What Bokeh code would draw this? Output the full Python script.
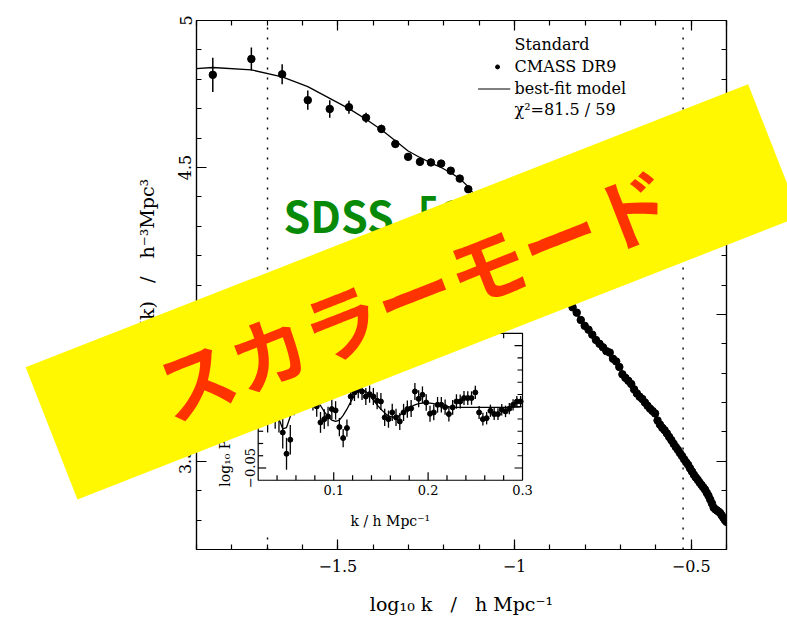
import math
from bokeh.plotting import figure
from bokeh.layouts import column
from bokeh.models import Range1d, LinearAxis, SingleIntervalTicker
from bokeh.core.properties import value
from bokeh.embed import file_html
from bokeh.resources import INLINE

# ---------------- data ----------------
k_data = [0.014, 0.018, 0.022, 0.026, 0.030, 0.034, 0.038, 0.042, 0.046, 0.050,
          0.054, 0.058, 0.062, 0.066, 0.070, 0.074, 0.078, 0.082, 0.086, 0.090,
          0.094, 0.098, 0.102, 0.106, 0.110, 0.114, 0.118, 0.122, 0.126, 0.130,
          0.134, 0.138, 0.142, 0.146, 0.150, 0.154, 0.158, 0.162, 0.166, 0.170,
          0.174, 0.178, 0.182, 0.186, 0.190, 0.194, 0.198, 0.202, 0.206, 0.210,
          0.214, 0.218, 0.222, 0.226, 0.230, 0.234, 0.238, 0.242, 0.246, 0.250,
          0.254, 0.258, 0.262, 0.266, 0.270, 0.274, 0.278, 0.282, 0.286, 0.290,
          0.294, 0.298, 0.302, 0.306, 0.310, 0.314, 0.318, 0.322, 0.326, 0.330,
          0.334, 0.338, 0.342, 0.346, 0.350, 0.354, 0.358, 0.362, 0.366, 0.370,
          0.374, 0.378, 0.382, 0.386, 0.390, 0.394, 0.398]
logP_data = [4.815, 4.869, 4.817, 4.729, 4.699, 4.705, 4.669, 4.631, 4.580, 4.536,
             4.519, 4.517, 4.513, 4.489, 4.462, 4.426, 4.394, 4.357, 4.316, 4.292,
             4.268, 4.249, 4.225, 4.188, 4.157, 4.145, 4.150, 4.134, 4.117, 4.097,
             4.074, 4.059, 4.040, 4.024, 4.006, 3.981, 3.961, 3.948, 3.931, 3.913,
             3.900, 3.888, 3.875, 3.870, 3.849, 3.840, 3.821, 3.796, 3.784, 3.774,
             3.763, 3.745, 3.731, 3.720, 3.712, 3.700, 3.689, 3.679, 3.671, 3.663,
             3.639, 3.625, 3.614, 3.606, 3.595, 3.583, 3.572, 3.560, 3.549, 3.539,
             3.528, 3.518, 3.507, 3.497, 3.488, 3.476, 3.465, 3.454, 3.445, 3.437,
             3.428, 3.420, 3.412, 3.404, 3.393, 3.383, 3.370, 3.357, 3.343, 3.337,
             3.333, 3.329, 3.324, 3.316, 3.308, 3.300, 3.294]
logP_err = [0.058, 0.039, 0.034, 0.033, 0.030, 0.022, 0.017, 0.014, 0.012, 0.010,
            0.009, 0.009, 0.008, 0.008, 0.007, 0.007, 0.007, 0.007, 0.007, 0.007,
            0.006, 0.006, 0.006, 0.006, 0.006, 0.006, 0.006, 0.006, 0.006, 0.006,
            0.006, 0.006, 0.005, 0.005, 0.005, 0.005, 0.005, 0.005, 0.005, 0.005,
            0.005, 0.005, 0.005, 0.005, 0.005, 0.005, 0.005, 0.005, 0.005, 0.005,
            0.005, 0.005, 0.004, 0.004, 0.004, 0.004, 0.004, 0.004, 0.004, 0.004,
            0.004, 0.004, 0.004, 0.004, 0.004, 0.004, 0.004, 0.004, 0.004, 0.004,
            0.004, 0.004, 0.004, 0.004, 0.004, 0.004, 0.004, 0.003, 0.003, 0.003,
            0.003, 0.003, 0.003, 0.003, 0.003, 0.003, 0.003, 0.003, 0.003, 0.003,
            0.003, 0.003, 0.003, 0.003, 0.003, 0.003, 0.003]

k_model = [0.010, 0.014, 0.018, 0.022, 0.026, 0.030, 0.034, 0.038, 0.042, 0.046,
           0.050, 0.054, 0.058, 0.062, 0.066, 0.070, 0.074, 0.078, 0.082, 0.086,
           0.090, 0.094, 0.098, 0.102, 0.106, 0.110, 0.114, 0.118, 0.122, 0.126,
           0.130, 0.134, 0.138, 0.142, 0.146, 0.150, 0.154, 0.158, 0.162, 0.166,
           0.170, 0.174, 0.178, 0.182, 0.186, 0.190, 0.194, 0.198, 0.202, 0.206,
           0.210, 0.214, 0.218, 0.222, 0.226, 0.230, 0.234, 0.238, 0.242, 0.246,
           0.250, 0.254, 0.258, 0.262, 0.266, 0.270, 0.274, 0.278, 0.282, 0.286,
           0.290, 0.294, 0.298, 0.302, 0.306, 0.310, 0.314, 0.318, 0.322, 0.326,
           0.330, 0.334, 0.338, 0.342, 0.346, 0.350, 0.354, 0.358, 0.362, 0.366,
           0.370, 0.374, 0.378, 0.382, 0.386, 0.390, 0.394, 0.398]
logP_model = [4.828, 4.840, 4.832, 4.808, 4.775, 4.735, 4.700, 4.664, 4.628, 4.591,
              4.556, 4.534, 4.515, 4.500, 4.482, 4.462, 4.434, 4.398, 4.362, 4.330,
              4.298, 4.268, 4.240, 4.216, 4.194, 4.176, 4.160, 4.145, 4.131, 4.116,
              4.098, 4.078, 4.058, 4.038, 4.020, 4.001, 3.982, 3.964, 3.947, 3.931,
              3.915, 3.900, 3.886, 3.872, 3.858, 3.845, 3.832, 3.819, 3.806, 3.793,
              3.780, 3.767, 3.754, 3.742, 3.730, 3.718, 3.706, 3.694, 3.683, 3.672,
              3.660, 3.649, 3.638, 3.627, 3.616, 3.605, 3.594, 3.583, 3.572, 3.561,
              3.550, 3.540, 3.529, 3.518, 3.508, 3.497, 3.487, 3.476, 3.466, 3.455,
              3.445, 3.435, 3.425, 3.415, 3.405, 3.395, 3.385, 3.375, 3.365, 3.355,
              3.345, 3.336, 3.326, 3.317, 3.308, 3.299, 3.290, 3.281]

# inset: log10 of the ratio to the smooth spectrum
k_in = [0.022, 0.026, 0.030, 0.034, 0.038, 0.042, 0.046, 0.050, 0.054, 0.058,
        0.062, 0.066, 0.070, 0.074, 0.078, 0.082, 0.086, 0.090, 0.094, 0.098,
        0.102, 0.106, 0.110, 0.114, 0.118, 0.122, 0.126, 0.130, 0.134, 0.138,
        0.142, 0.146, 0.150, 0.154, 0.158, 0.162, 0.166, 0.170, 0.174, 0.178,
        0.182, 0.186, 0.190, 0.194, 0.198, 0.202, 0.206, 0.210, 0.214, 0.218,
        0.222, 0.226, 0.230, 0.234, 0.238, 0.242, 0.246, 0.250, 0.254, 0.258,
        0.262, 0.266, 0.270, 0.274, 0.278, 0.282, 0.286, 0.290, 0.294, 0.298]
ratio_in = [0.004, 0.010, -0.006, 0.012, -0.004, -0.008, -0.021, -0.0384, -0.0269, 0.004,
            0.010, 0.018, 0.012, 0.015, 0.006, 0.0003, -0.0128, -0.0101, -0.0079, -0.0019,
            -0.003, -0.0166, -0.0256, -0.0174, 0.0084, 0.0117, 0.0139, 0.0125, 0.0084, 0.0103,
            0.0084, 0.0049, 0.0043, -0.0087, -0.0101, -0.0046, -0.0087, -0.012, -0.0046, -0.0019,
            -0.0014, 0.0125, 0.0065, 0.0098, 0.0035, -0.0057, -0.0046, 0.0016, 0.0016, -0.0003,
            -0.006, -0.0005, 0.0043, 0.0043, 0.0071, 0.0071, 0.0071, 0.0117, -0.0046, -0.0101,
            -0.0093, -0.0033, -0.006, -0.006, -0.0024, -0.0038, -0.0016, 0.0016, 0.0043, 0.0043]
ratio_err = [0.016, 0.015, 0.015, 0.014, 0.014, 0.013, 0.013, 0.013, 0.012, 0.011,
             0.011, 0.010, 0.010, 0.009, 0.009, 0.0085, 0.0085, 0.008, 0.008, 0.008,
             0.0075, 0.0075, 0.0075, 0.007, 0.007, 0.007, 0.007, 0.007, 0.007, 0.007,
             0.007, 0.007, 0.007, 0.007, 0.007, 0.007, 0.007, 0.007, 0.007, 0.007,
             0.007, 0.007, 0.007, 0.0068, 0.0067, 0.0066, 0.0065, 0.0064, 0.0063, 0.0062,
             0.0061, 0.006, 0.0059, 0.0058, 0.0057, 0.0056, 0.0055, 0.0054, 0.0053, 0.0052,
             0.0051, 0.005, 0.0049, 0.0048, 0.0047, 0.0047, 0.0046, 0.0046, 0.0045, 0.0045]
ratio_model = [0.002, 0.005, 0.007, 0.006, 0.000, -0.010, -0.018, -0.017, -0.008, 0.003,
               0.011, 0.015, 0.015, 0.012, 0.009, 0.005, 0.001, -0.004, -0.008, -0.011,
               -0.012, -0.011, -0.007, -0.002, 0.004, 0.0095, 0.013, 0.014, 0.0125, 0.0095,
               0.0055, 0.0015, -0.002, -0.005, -0.0075, -0.0085, -0.0085, -0.007, -0.0045, -0.002,
               0.000, 0.0015, 0.0025, 0.003, 0.003, 0.003, 0.0025, 0.0015, 0.001, 0.0005,
               0.000, -0.0003, -0.0005, -0.0005, -0.0005, -0.0005, -0.0005, -0.0005, -0.0005, -0.0005,
               -0.0005, -0.0005, -0.0005, -0.0005, -0.0005, -0.0005, -0.0004, -0.0003, -0.0002, 0.000]

fit_range_k = [0.02, 0.30]

main_x_labels = {"-1.5": "\u22121.5", "-1": "\u22121", "-0.5": "\u22120.5"}
main_y_labels = {"3.5": "3.5", "4": "4", "4.5": "4.5", "5": "5"}
inset_x_major = [0.1, 0.2]
inset_x_minor = [0.04, 0.06, 0.08, 0.12, 0.14, 0.16, 0.18, 0.22, 0.24, 0.26, 0.28]
inset_x_labels = ["0.1", "0.2", "0.3"]
inset_x_label_pos = [0.1, 0.2, 0.3]
inset_y_major = [-0.05, 0.0, 0.05]
inset_y_minor = [-0.04, -0.03, -0.02, -0.01, 0.01, 0.02, 0.03, 0.04]

legend_lines = ["Standard", "CMASS DR9", "best-fit model", "\u03c7\u00b2=81.5 / 59"]
banner_text = "スカラーモード"
title_text = "SDSS\u300cCMASS\u300d"

SERIF = "DejaVu Serif"
NB = "\u00a0"
W, H = 787, 620

# ---------------- main figure ----------------
p = figure(width=W, height=H, x_range=Range1d(-1.9, -0.4), y_range=Range1d(3.2, 5.0),
           output_backend="svg", toolbar_location=None,
           min_border_left=196, min_border_right=61, min_border_top=20, min_border_bottom=71)
p.xgrid.visible = False
p.ygrid.visible = False
p.outline_line_color = "black"
p.outline_line_width = 1.2
p.background_fill_color = "white"
p.frame_align = False

xt = SingleIntervalTicker(interval=0.5, num_minor_ticks=5)
yt = SingleIntervalTicker(interval=0.5, num_minor_ticks=5)


def style_axis(ax, show_labels):
    ax.major_tick_in = 10
    ax.major_tick_out = 0
    ax.minor_tick_in = 5
    ax.minor_tick_out = 0
    ax.axis_line_color = "black"
    ax.axis_line_width = 1.2
    ax.major_tick_line_color = "black"
    ax.minor_tick_line_color = "black"
    ax.major_tick_line_width = 1.2
    ax.minor_tick_line_width = 1.2
    ax.major_label_text_font = SERIF
    if show_labels:
        ax.major_label_text_color = "black"
        ax.major_label_text_font_size = "16px"
    else:
        ax.major_label_text_color = None
        ax.major_label_text_font_size = "1px"
        ax.major_label_standoff = 0
    ax.axis_label_text_font = SERIF
    ax.axis_label_text_font_style = "normal"
    ax.axis_label_text_color = "black"
    ax.axis_label_text_font_size = "19px"


SEP = NB * 3 + "/" + NB * 3

xa = p.xaxis[0]
xa.ticker = xt
style_axis(xa, True)
xa.major_label_overrides = main_x_labels
xa.major_label_standoff = 10
xa.axis_label = "log\u2081\u2080 k" + SEP + "h Mpc\u207b\u00b9"
xa.axis_label_standoff = 18

ya = p.yaxis[0]
ya.ticker = yt
style_axis(ya, True)
ya.major_label_overrides = main_y_labels
ya.major_label_orientation = "vertical"
ya.major_label_standoff = 5
ya.axis_label = "log\u2081\u2080 P(k)" + SEP + "h\u207b\u00b3Mpc\u00b3"
ya.axis_label_standoff = 19

top_ax = LinearAxis(ticker=xt)
style_axis(top_ax, False)
p.add_layout(top_ax, "above")
right_ax = LinearAxis(ticker=yt)
style_axis(right_ax, False)
p.add_layout(right_ax, "right")

# fit-range markers
fit_x = [math.log10(k) for k in fit_range_k]
p.segment(x0=fit_x, y0=[3.2, 3.2], x1=fit_x, y1=[5.0, 5.0],
          line_color="black", line_width=1.4, line_dash="2 8")

# data and model
X = [math.log10(k) for k in k_data]
lo = [y - e for y, e in zip(logP_data, logP_err)]
hi = [y + e for y, e in zip(logP_data, logP_err)]
p.segment(x0=X, y0=lo, x1=X, y1=hi, line_color="black", line_width=1.5)
p.scatter(X, logP_data, size=7.5, color="black")
Xm = [math.log10(k) for k in k_model]
p.line(Xm, logP_model, line_color="black", line_width=1.3)

# legend block
p.text(x=[-1.0] * 4, y=[4.917, 4.842, 4.767, 4.696], text=legend_lines,
       text_font=value(SERIF), text_font_size="16px", text_color="black",
       text_align="left", text_baseline="middle")
p.scatter([-1.048], [4.842], size=4, color="black")
p.segment(x0=[-1.103], y0=[4.767], x1=[-1.012], y1=[4.767], line_color="black", line_width=1.2)

# ---------------- inset ----------------
ins = p.subplot(x_source=Range1d(0.02, 0.30), y_source=Range1d(-0.06, 0.06),
                x_target=Range1d(-1.7254, -0.9773), y_target=Range1d(3.4357, 3.9357))
ins.quad(left=[-0.03], right=[0.31], bottom=[-0.103], top=[0.064],
         fill_color="white", line_color=None)
ins.quad(left=[0.02], right=[0.30], bottom=[-0.06], top=[0.06],
         fill_color=None, line_color="black", line_width=1.2)
for xs, ln in ((inset_x_major, 8), (inset_x_minor, 5)):
    ins.ray(x=xs, y=[-0.06] * len(xs), length=ln, length_units="screen",
            angle=90, angle_units="deg", line_color="black", line_width=1.2)
    ins.ray(x=xs, y=[0.06] * len(xs), length=ln, length_units="screen",
            angle=-90, angle_units="deg", line_color="black", line_width=1.2)
for ys, ln in ((inset_y_major, 8), (inset_y_minor, 5)):
    ins.ray(x=[0.02] * len(ys), y=ys, length=ln, length_units="screen",
            angle=0, angle_units="deg", line_color="black", line_width=1.2)
    ins.ray(x=[0.30] * len(ys), y=ys, length=ln, length_units="screen",
            angle=180, angle_units="deg", line_color="black", line_width=1.2)

ins.text(x=inset_x_label_pos, y=[-0.06] * 3, text=inset_x_labels, y_offset=5,
         text_font=value(SERIF), text_font_size="13px", text_color="black",
         text_align="center", text_baseline="top")
ins.text(x=[0.02], y=[-0.05], text=["\u22120.05"], x_offset=-3, angle=90, angle_units="deg",
         text_font=value(SERIF), text_font_size="13px", text_color="black",
         text_align="center", text_baseline="bottom")
ins.text(x=[0.16], y=[-0.0936], text=["k / h Mpc\u207b\u00b9"],
         text_font=value(SERIF), text_font_size="14px", text_color="black",
         text_align="center", text_baseline="middle")
ins.text(x=[-0.0147], y=[-0.0653], text=["log\u2081\u2080 P(k) / Pnw(k)"], angle=90, angle_units="deg",
         text_font=value(SERIF), text_font_size="14px", text_color="black",
         text_align="left", text_baseline="middle")

lo_in = [r - e for r, e in zip(ratio_in, ratio_err)]
hi_in = [r + e for r, e in zip(ratio_in, ratio_err)]
ins.segment(x0=k_in, y0=lo_in, x1=k_in, y1=hi_in, line_color="black", line_width=1.3)
ins.scatter(k_in, ratio_in, size=5, color="black")
ins.line(k_in, ratio_model, line_color="black", line_width=1.3)

# ---------------- overlay (caption + banner across the whole picture) ----------------
ov = figure(width=W, height=H, x_range=Range1d(0, W), y_range=Range1d(0, H),
            output_backend="svg", toolbar_location=None,
            x_axis_type=None, y_axis_type=None, min_border=0,
            min_border_left=0, min_border_right=0, min_border_top=0, min_border_bottom=0,
            background_fill_color=None, border_fill_color=None, outline_line_color=None,
            margin=(-H, 0, 0, 0))
ov.frame_align = False

# green caption (partly hidden by the banner)
ov.text(x=[283], y=[H - 213], text=[title_text],
        text_font=value("Noto Sans CJK JP"), text_font_style="bold", text_font_size="43px",
        text_color="#078a07", text_align="left", text_baseline="alphabetic")

bx, by = 412.3, H - 291.4
ov.rect(x=[bx], y=[by], width=[776], height=[142], width_units="screen", height_units="screen",
        angle=21.4, angle_units="deg", fill_color="#fff800", line_color=None)
ov.text(x=[bx], y=[by], text=[banner_text], angle=21.4, angle_units="deg",
        text_align="center", text_baseline="middle",
        text_font=value("Noto Sans CJK JP"), text_font_style="bold", text_font_size="78px",
        text_color="#ff3300")

layout = column(p, ov, spacing=0)
open("out.html", "w").write(file_html(layout, INLINE))
